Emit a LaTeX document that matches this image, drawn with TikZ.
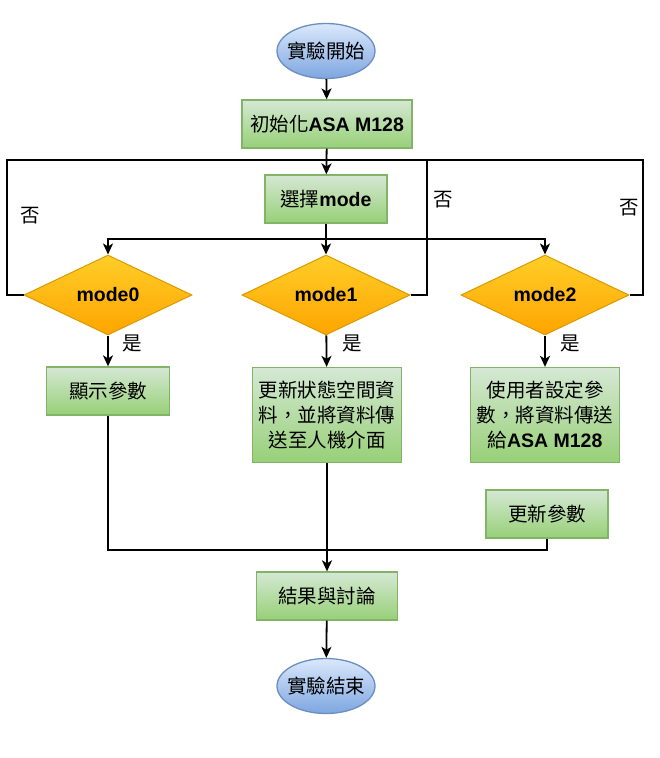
\documentclass[tikz,border=0pt]{standalone}
\usepackage{fontspec}
\setmainfont{Liberation Sans}
\newfontfamily\cjk{Noto Sans CJK TC}
\usetikzlibrary{shapes.geometric,arrows.meta}

\definecolor{proctop}{HTML}{D5E8D4}
\definecolor{procbot}{HTML}{97D077}
\definecolor{procline}{HTML}{82B366}
\definecolor{dectop}{HTML}{FFCD28}
\definecolor{decbot}{HTML}{FFA500}
\definecolor{decline}{HTML}{D79B00}
\definecolor{termtop}{HTML}{DAE8FC}
\definecolor{termbot}{HTML}{7EA6E0}
\definecolor{termline}{HTML}{6C8EBF}

\newcommand\en[1]{{\rmfamily\bfseries #1}}

\begin{document}
\begin{tikzpicture}[x=1pt, y=-1pt,
	font=\cjk\fontsize{19.5}{25}\selectfont,
	terminal/.style={ellipse, draw=termline, line width=1.3pt, top color=termtop, bottom color=termbot, minimum width=98pt, minimum height=55pt, inner xsep=-5pt, inner ysep=0pt},
	process/.style={rectangle, draw=procline, line width=1.3pt, top color=proctop, bottom color=procbot, minimum height=48pt, inner sep=2pt, align=center},
	decision/.style={diamond, draw=decline, line width=1pt, top color=dectop, bottom color=decbot, minimum width=168pt, minimum height=80pt, inner sep=0pt, aspect=2.1},
	flow/.style={line width=1.8pt, -{Stealth[length=11pt, width=10pt, inset=3pt]}},
	link/.style={line width=1.8pt}]
	\useasboundingbox (0,0) rectangle (659,758);

	% nodes
	\node[terminal] (start) at (326,51) {實驗開始};
	\node[process, minimum width=170pt] (init) at (327,124) {初始化\en{ASA M128}};
	\node[process, minimum width=122pt] (choose) at (326,199) {選擇\en{mode}};
	\node[decision] (m0) at (108,295) {\en{mode0}};
	\node[decision] (m1) at (326,295) {\en{mode1}};
	\node[decision] (m2) at (545,295) {\en{mode2}};
	\node[process, minimum width=123pt] (show) at (108,391) {顯示參數};
	\node[process, minimum width=149pt, minimum height=95pt] (upd) at (327,415) {更新狀態空間資\\料，並將資料傳\\送至人機介面};
	\node[process, minimum width=149pt, minimum height=95pt] (user) at (545,415) {使用者設定參\\數，將資料傳送\\給\en{ASA M128}};
	\node[process, minimum width=122pt] (param) at (547,514) {更新參數};
	\node[process, minimum width=141pt] (result) at (327,596) {結果與討論};
	\node[terminal] (end) at (326,686) {實驗結束};

	% labels
	\node (no0) at (30,216) {否};
	\node (no1) at (443,200) {否};
	\node (no2) at (629,208) {否};
	\node (yes0) at (132,343) {是};
	\node (yes1) at (352,343) {是};
	\node (yes2) at (570,343) {是};

	% junctions
	\coordinate (topL) at (7,160);
	\coordinate (topM) at (427,160);
	\coordinate (topR) at (643,160);
	\coordinate (fork) at (326,239);
	\coordinate (merge) at (326,550);

	% connectors
	\draw[flow] (start) -- (init);
	\draw[flow] (init) -- (choose);
	\draw[link] (m0.west) -| (topL) -- (topR) |- (m2.east);
	\draw[link] (m1.east) -| (topM);
	\draw[link] (choose) -- (fork);
	\draw[flow] (fork) -| (m0.north);
	\draw[flow] (fork) -- (m1.north);
	\draw[flow] (fork) -| (m2.north);
	\draw[flow] (m0) -- (show);
	\draw[flow] (m1) -- (upd);
	\draw[flow] (m2) -- (user);
	\draw[link] (show.south) |- (merge) -| (param.south);
	\draw[flow] (upd) -- (result);
	\draw[flow] (result) -- (end);
\end{tikzpicture}
\end{document}
